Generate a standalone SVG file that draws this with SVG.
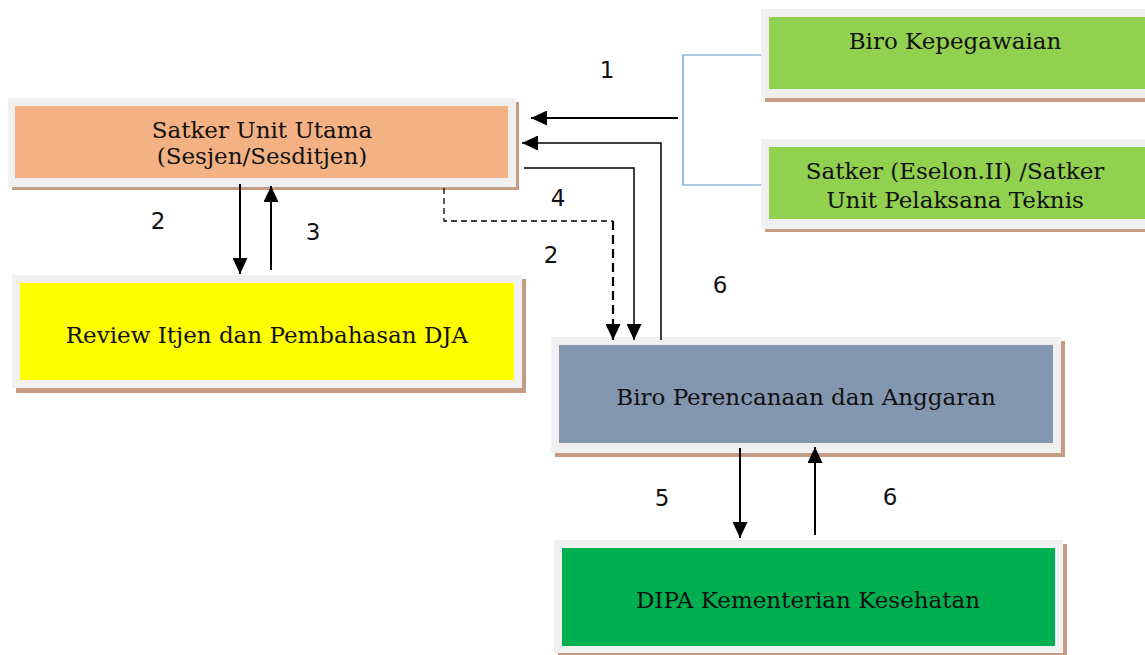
<svg xmlns="http://www.w3.org/2000/svg" width="1145" height="655" viewBox="0 0 1145 655">
<style>
.frame{fill:#f0f0f0}
.shadow{fill:#c59b83}
.t{font-family:"DejaVu Serif","Liberation Serif",serif;font-size:23px;fill:#111;text-anchor:middle}
.n{font-family:"DejaVu Sans","Liberation Sans",sans-serif;font-size:23px;fill:#111;text-anchor:middle}
.c{stroke:#000;fill:none;stroke-width:2}
.c1{stroke:#000;fill:none;stroke-width:1.5}
.d{stroke:#000;fill:none;stroke-width:1.3;stroke-dasharray:6 4}
.d2{stroke:#000;fill:none;stroke-width:2.2;stroke-dasharray:9 5}
.b{stroke:#5b93d6;fill:none;stroke-width:1.2}
</style>
<defs>
<marker id="ah" viewBox="0 0 10 10" refX="10" refY="5" markerWidth="16" markerHeight="15" markerUnits="userSpaceOnUse" orient="auto" preserveAspectRatio="none">
<path d="M0,0 L10,5 L0,10 z" fill="#000"/>
</marker>
</defs>
<rect width="1145" height="655" fill="#fff"/>
<g id="satker-unit-utama">
<rect class="shadow" x="12" y="102" width="507" height="88"/>
<rect class="frame" x="8" y="98" width="508" height="89"/>
<rect x="15" y="106" width="493" height="72" fill="#f4b183"/>
<text class="t" x="262" y="138">Satker Unit Utama</text>
<text class="t" x="262" y="164">(Sesjen/Sesditjen)</text>
</g>
<g id="biro-kepegawaian">
<rect class="shadow" x="765" y="13" width="380" height="89"/>
<rect class="frame" x="761" y="9" width="384" height="89"/>
<rect x="769" y="17" width="376" height="72" fill="#92d050"/>
<text class="t" x="955" y="49">Biro Kepegawaian</text>
</g>
<g id="satker-eselon">
<rect class="shadow" x="765" y="143" width="380" height="89"/>
<rect class="frame" x="761" y="139" width="384" height="90"/>
<rect x="769" y="147" width="376" height="72" fill="#92d050"/>
<text class="t" x="955" y="179">Satker (Eselon.II) /Satker</text>
<text class="t" x="955" y="208">Unit Pelaksana Teknis</text>
</g>
<g id="review">
<rect class="shadow" x="16" y="279" width="510" height="114"/>
<rect class="frame" x="12" y="275" width="510" height="113"/>
<rect x="20" y="283" width="494" height="97" fill="#ffff00"/>
<text class="t" x="267" y="343">Review Itjen dan Pembahasan DJA</text>
</g>
<g id="biro-perencanaan">
<rect class="shadow" x="555" y="341" width="510" height="116"/>
<rect class="frame" x="551" y="337" width="510" height="116"/>
<rect x="559" y="345" width="494" height="98" fill="#8497b0"/>
<text class="t" x="806" y="405">Biro Perencanaan dan Anggaran</text>
</g>
<g id="dipa">
<rect class="shadow" x="558" y="544" width="509" height="111"/>
<rect class="frame" x="554" y="540" width="509" height="113"/>
<rect x="562" y="548" width="493" height="98" fill="#00b050"/>
<text class="t" x="808" y="608">DIPA Kementerian Kesehatan</text>
</g>
<g id="connectors">
<path class="b" d="M761,55 H683 V185 H761"/>
<path class="c" d="M678,118 H531" marker-end="url(#ah)"/>
<path class="c1" d="M661,340 V143 H522" marker-end="url(#ah)"/>
<path class="c1" d="M524,168 H634 V340" marker-end="url(#ah)"/>
<path class="d" d="M444,188 V221 H613"/>
<path class="d2" d="M613,221 V340" marker-end="url(#ah)"/>
<path class="c" d="M240,184 V274" marker-end="url(#ah)"/>
<path class="c" d="M271,270 V186" marker-end="url(#ah)"/>
<path class="c" d="M740,448 V538" marker-end="url(#ah)"/>
<path class="c" d="M815,535 V447" marker-end="url(#ah)"/>
</g>
<g id="labels">
<text class="n" x="607" y="78">1</text>
<text class="n" x="158" y="229">2</text>
<text class="n" x="313" y="240">3</text>
<text class="n" x="558" y="206">4</text>
<text class="n" x="551" y="263">2</text>
<text class="n" x="720" y="293">6</text>
<text class="n" x="662" y="506">5</text>
<text class="n" x="890" y="505">6</text>
</g>
</svg>
